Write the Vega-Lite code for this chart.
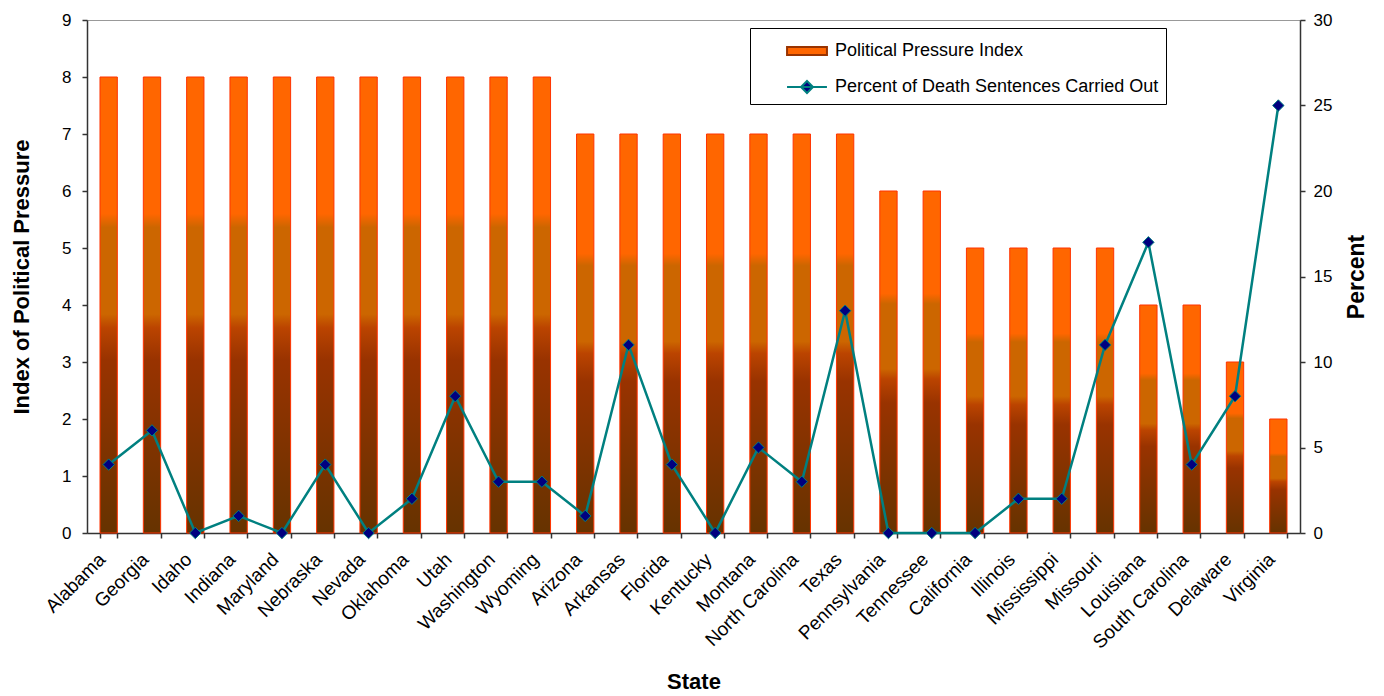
{
  "$schema": "https://vega.github.io/schema/vega-lite/v6.json",
  "width": 1213,
  "height": 513,
  "autosize": {"type": "none"},
  "padding": {"left": 87, "top": 20, "right": 84, "bottom": 163},
  "background": "white",
  "config": {
    "view": {"stroke": "#999999", "strokeWidth": 1},
    "font": "Liberation Sans",
    "axis": {"grid": false, "domainColor": "#333333", "tickColor": "#333333", "labelColor": "#000000", "titleColor": "#000000", "labelFont": "Liberation Sans", "titleFont": "Liberation Sans", "domainWidth": 1.5, "tickWidth": 1.5}
  },
  "data": {
    "values": [
      {"state": "Alabama", "index": 8, "percent": 4},
      {"state": "Georgia", "index": 8, "percent": 6},
      {"state": "Idaho", "index": 8, "percent": 0},
      {"state": "Indiana", "index": 8, "percent": 1},
      {"state": "Maryland", "index": 8, "percent": 0},
      {"state": "Nebraska", "index": 8, "percent": 4},
      {"state": "Nevada", "index": 8, "percent": 0},
      {"state": "Oklahoma", "index": 8, "percent": 2},
      {"state": "Utah", "index": 8, "percent": 8},
      {"state": "Washington", "index": 8, "percent": 3},
      {"state": "Wyoming", "index": 8, "percent": 3},
      {"state": "Arizona", "index": 7, "percent": 1},
      {"state": "Arkansas", "index": 7, "percent": 11},
      {"state": "Florida", "index": 7, "percent": 4},
      {"state": "Kentucky", "index": 7, "percent": 0},
      {"state": "Montana", "index": 7, "percent": 5},
      {"state": "North Carolina", "index": 7, "percent": 3},
      {"state": "Texas", "index": 7, "percent": 13},
      {"state": "Pennsylvania", "index": 6, "percent": 0},
      {"state": "Tennessee", "index": 6, "percent": 0},
      {"state": "California", "index": 5, "percent": 0},
      {"state": "Illinois", "index": 5, "percent": 2},
      {"state": "Mississippi", "index": 5, "percent": 2},
      {"state": "Missouri", "index": 5, "percent": 11},
      {"state": "Louisiana", "index": 4, "percent": 17},
      {"state": "South Carolina", "index": 4, "percent": 4},
      {"state": "Delaware", "index": 3, "percent": 8},
      {"state": "Virginia", "index": 2, "percent": 25}
    ]
  },
  "encoding": {
    "x": {
      "field": "state", "type": "nominal", "sort": null,
      "scale": {"paddingInner": 0.6, "paddingOuter": 0.3},
      "axis": {"title": "State", "labelAngle": -45, "labelAlign": "right", "labelBaseline": "middle", "tickBand": "extent", "labelFontSize": 19, "labelPadding": 18, "labelOffset": -7, "tickSize": 5, "titleFontSize": 22, "titleFontWeight": "bold", "titlePadding": 20}
    }
  },
  "layer": [
    {
      "mark": {
        "type": "bar",
        "stroke": "#FF3300",
        "strokeWidth": 1,
        "fill": {"gradient": "linear", "x1": 0, "y1": 0, "x2": 0, "y2": 1,
          "stops": [
            {"offset": 0, "color": "#FF6600"},
            {"offset": 0.3, "color": "#FF6600"},
            {"offset": 0.33, "color": "#CC6600"},
            {"offset": 0.52, "color": "#CC6600"},
            {"offset": 0.55, "color": "#BB4400"},
            {"offset": 0.62, "color": "#993300"},
            {"offset": 0.85, "color": "#7A3300"},
            {"offset": 1, "color": "#663300"}
          ]}
      },
      "encoding": {
        "y": {
          "field": "index", "type": "quantitative",
          "scale": {"domain": [0, 9], "nice": false},
          "axis": {"title": "Index of Political Pressure", "values": [0, 1, 2, 3, 4, 5, 6, 7, 8, 9], "labelFontSize": 17, "tickSize": 5, "labelPadding": 11, "titleFontSize": 22, "titleFontWeight": "bold", "titlePadding": 28}
        }
      }
    },
    {
      "encoding": {
        "y": {
          "field": "percent", "type": "quantitative",
          "scale": {"domain": [0, 30], "nice": false},
          "axis": {"orient": "right", "title": "Percent", "values": [0, 5, 10, 15, 20, 25, 30], "labelFontSize": 17, "tickSize": 5, "labelPadding": 8, "titleFontSize": 23, "titleFontWeight": "bold", "titleAngle": 270, "titlePadding": 37}
        }
      },
      "layer": [
        {"mark": {"type": "line", "stroke": "#008080", "strokeWidth": 2.5}},
        {
          "mark": {"type": "point", "shape": "diamond", "filled": true, "size": 130, "fill": "#000080", "stroke": "#008080", "strokeWidth": 1, "opacity": 1}
        },
        {
          "mark": {"type": "point", "filled": true, "opacity": 0, "strokeWidth": 2},
          "encoding": {
            "fill": {
              "datum": "Percent of Death Sentences Carried Out",
              "scale": {"domain": ["Political Pressure Index", "Percent of Death Sentences Carried Out"], "range": ["#FF6600", "#000080"]},
              "legend": {
                "title": null,
                "orient": "none",
                "legendX": 663,
                "legendY": 8,
                "padding": 7,
                "symbolOffset": 34,
                "symbolSize": 900,
                "symbolOpacity": 1,
                "symbolStrokeWidth": 2,
                "rowPadding": 11,
                "labelOffset": 12,
                "labelFontSize": 18,
                "labelFont": "Liberation Sans",
                "labelColor": "#000000",
                "labelLimit": 400,
                "strokeColor": "#000000",
                "fillColor": "#FFFFFF"
              }
            },
            "stroke": {
              "datum": "Percent of Death Sentences Carried Out",
              "scale": {"domain": ["Political Pressure Index", "Percent of Death Sentences Carried Out"], "range": ["#993300", "#008080"]},
              "legend": {"title": null}
            },
            "shape": {
              "datum": "Percent of Death Sentences Carried Out",
              "scale": {"domain": ["Political Pressure Index", "Percent of Death Sentences Carried Out"], "range": ["M-1.33,-0.27H1.33V0.27H-1.33Z", "M-1.33,0H1.33M0,-0.4L0.4,0L0,0.4L-0.4,0Z"]},
              "legend": {"title": null}
            }
          }
        }
      ]
    }
  ],
  "resolve": {"scale": {"y": "independent"}}
}
